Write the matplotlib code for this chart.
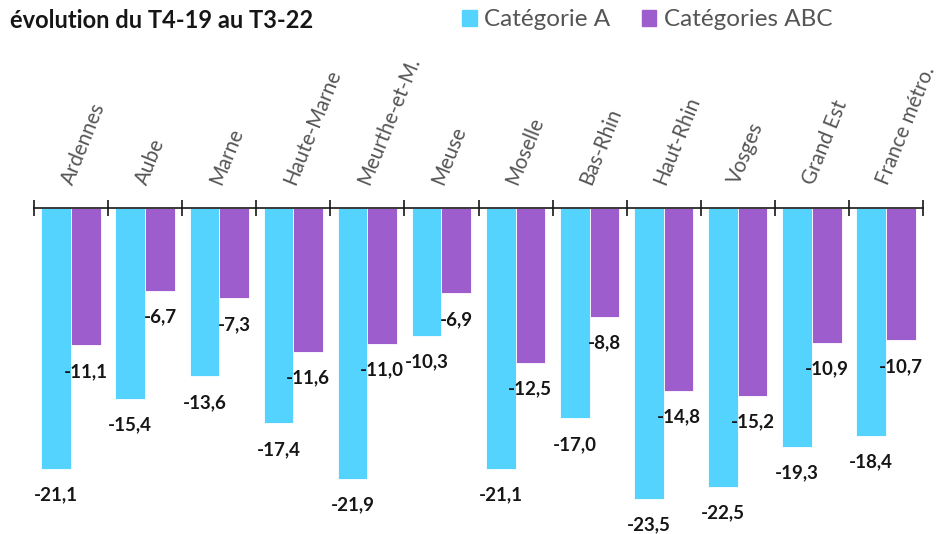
import numpy as np
import matplotlib
matplotlib.use("Agg")
import matplotlib.pyplot as plt
from matplotlib.patches import Patch

categories = ["Ardennes", "Aube", "Marne", "Haute-Marne", "Meurthe-et-M.", "Meuse",
              "Moselle", "Bas-Rhin", "Haut-Rhin", "Vosges", "Grand Est", "France métro."]
cat_a = [-21.1, -15.4, -13.6, -17.4, -21.9, -10.3, -21.1, -17.0, -23.5, -22.5, -19.3, -18.4]
cat_abc = [-11.1, -6.7, -7.3, -11.6, -11.0, -6.9, -12.5, -8.8, -14.8, -15.2, -10.9, -10.7]
series_names = ["Catégorie A", "Catégories ABC"]

col_a = "#55D3FF"
col_abc = "#9D5DCD"

plt.rcParams["font.family"] = ["Lato", "DejaVu Sans"]

fig = plt.figure(figsize=(9.41, 5.34), dpi=100)
ax = fig.add_axes([34/941, 0, (923-34)/941, (534-208)/534])

x = np.arange(len(categories))
w = 0.4
ax.bar(x - w/2, cat_a, w, color=col_a, edgecolor="white", linewidth=0.6)
ax.bar(x + w/2, cat_abc, w, color=col_abc, edgecolor="white", linewidth=0.6)

ax.set_xlim(-0.5, len(categories) - 0.5)
ax.set_ylim(-(534-208)/12.38, 0)

# value labels under the bar ends
px = 26 / 12.38
for i in range(len(categories)):
    ax.text(x[i] - w/2, cat_a[i] - px, f"{cat_a[i]:.1f}".replace(".", ","),
            ha="center", va="center", fontsize=13.5, fontweight="bold", color="#161616")
    ax.text(x[i] + w/2, cat_abc[i] - px, f"{cat_abc[i]:.1f}".replace(".", ","),
            ha="center", va="center", fontsize=13.5, fontweight="bold", color="#161616")

# category names, rotated, above the axis
for i, c in enumerate(categories):
    ax.annotate(c, xy=(x[i], 0), xytext=(4, 15), textcoords="offset points",
                rotation=68, ha="left", va="bottom", rotation_mode="anchor",
                fontsize=14.8, color="#555555", fontweight="normal", annotation_clip=False)

for s in ["left", "right", "bottom"]:
    ax.spines[s].set_visible(False)
ax.spines["top"].set_linewidth(1.2)
ax.spines["top"].set_color("#161616")
ax.xaxis.tick_top()
ax.set_xticks(np.arange(-0.5, len(categories), 1))
ax.set_xticklabels([])
ax.tick_params(axis="x", direction="inout", length=11.5, width=1.2, color="#161616")
ax.set_yticks([])

fig.text(10/941, 1 - 20/534, "évolution du T4-19 au T3-22", fontsize=17, fontweight="bold",
         color="#161616", ha="left", va="center")

handles = [Patch(color=col_a, label=series_names[0]), Patch(color=col_abc, label=series_names[1])]
fig.legend(handles=handles, loc="center left", bbox_to_anchor=(455/941, 1 - 20/534), ncol=2,
           frameon=False, fontsize=17.5, handlelength=0.6, handleheight=0.6, handletextpad=0.3,
           columnspacing=1.3, labelcolor="#555555", borderaxespad=0, borderpad=0.3)

fig.savefig("out.png", dpi=100)
